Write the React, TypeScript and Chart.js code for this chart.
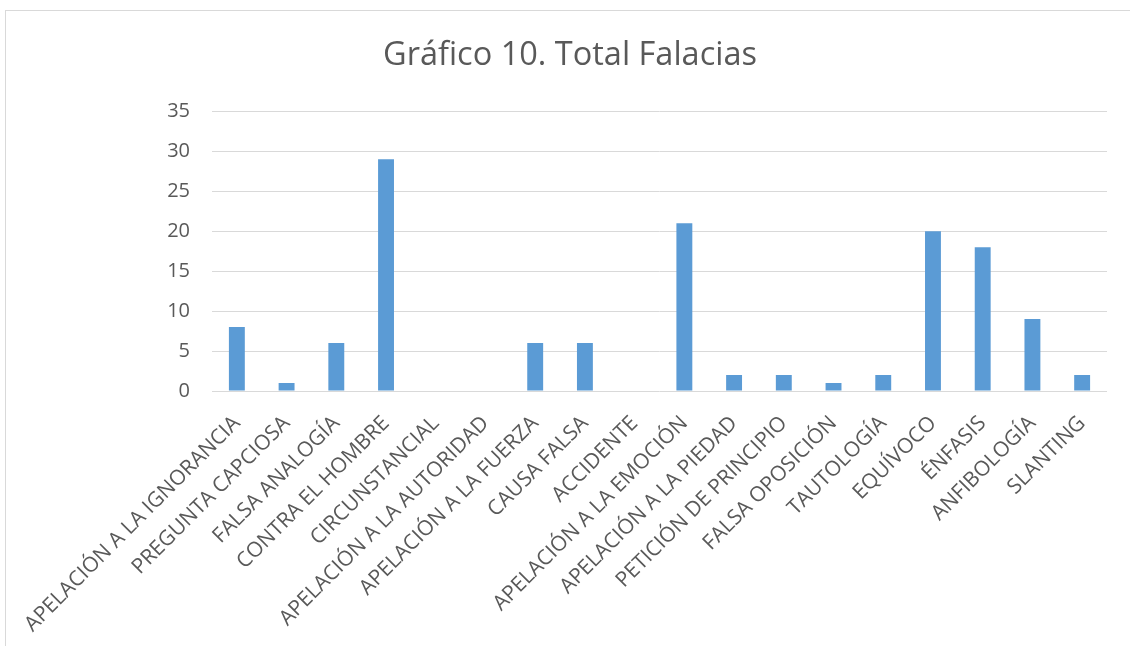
import React, { useEffect, useRef } from "react";
import { Chart, registerables } from "chart.js";

Chart.register(...registerables);

const categories: string[] = [
  "APELACIÓN A LA IGNORANCIA",
  "PREGUNTA CAPCIOSA",
  "FALSA ANALOGÍA",
  "CONTRA EL HOMBRE",
  "CIRCUNSTANCIAL",
  "APELACIÓN A LA AUTORIDAD",
  "APELACIÓN A LA FUERZA",
  "CAUSA FALSA",
  "ACCIDENTE",
  "APELACIÓN A LA EMOCIÓN",
  "APELACIÓN A LA PIEDAD",
  "PETICIÓN DE PRINCIPIO",
  "FALSA OPOSICIÓN",
  "TAUTOLOGÍA",
  "EQUÍVOCO",
  "ÉNFASIS",
  "ANFIBOLOGÍA",
  "SLANTING",
];

const totals: number[] = [8, 1, 6, 29, 0, 0, 6, 6, 0, 21, 2, 2, 1, 2, 20, 18, 9, 2];

const yTicks: number[] = [0, 5, 10, 15, 20, 25, 30, 35];

const titleText = "Gráfico 10. Total Falacias";

const FONT = "'Open Sans', 'Noto Sans', sans-serif";
const TEXT = "#595959";
const GRID = "#d9d9d9";

const framePlugin = {
  id: "frame",
  beforeDraw(chart: any) {
    const ctx = chart.ctx;
    ctx.save();
    ctx.fillStyle = "#ffffff";
    ctx.fillRect(0, 0, chart.width, chart.height);
    ctx.strokeStyle = GRID;
    ctx.lineWidth = 1;
    ctx.strokeRect(5.5, 10.5, chart.width + 10, chart.height + 10);
    ctx.restore();
  },
  afterLayout(chart: any) {
    const t = chart.titleBlock;
    if (t) {
      t.left = 33;
      t.right = chart.chartArea.right;
      t.width = t.right - t.left;
    }
  },
};

export default function App() {
  const ref = useRef<HTMLCanvasElement | null>(null);

  useEffect(() => {
    if (!ref.current) return;
    const chart = new Chart(ref.current, {
      type: "bar",
      data: {
        labels: categories,
        datasets: [
          {
            label: "Total",
            data: totals,
            backgroundColor: "#5b9bd5",
            borderWidth: 0,
            barPercentage: 0.32,
            categoryPercentage: 1,
          },
        ],
      },
      plugins: [framePlugin],
      options: {
        animation: false,
        responsive: false,
        maintainAspectRatio: false,
        layout: { padding: { left: 0, right: 23, top: 10, bottom: 0 } },
        plugins: {
          legend: { display: false },
          tooltip: { enabled: false },
          title: {
            display: true,
            text: titleText,
            color: TEXT,
            font: { family: FONT, size: 32.5, weight: "normal" as any },
            padding: { top: 26, bottom: 36.4 },
          },
        },
        scales: {
          x: {
            grid: { display: false, drawTicks: false },
            border: { display: false },
            ticks: {
              autoSkip: false,
              minRotation: 45,
              maxRotation: 45,
              padding: 20,
              color: TEXT,
              font: { family: FONT, size: 21 },
            },
            afterFit(scale: any) {
              scale.height = 255;
            },
          },
          y: {
            min: 0,
            max: 35,
            afterBuildTicks(scale: any) {
              scale.ticks = yTicks.map((v) => ({ value: v }));
            },
            grid: { color: GRID, lineWidth: 1, drawTicks: false },
            border: { display: false },
            ticks: {
              padding: 22,
              color: TEXT,
              font: { family: FONT, size: 20 },
            },
            afterFit(scale: any) {
              scale.width = 212;
            },
          },
        },
      },
    });
    return () => chart.destroy();
  }, []);

  return (
    <div style={{ position: "fixed", left: 0, top: 0, width: 1130, height: 646, background: "#fff" }}>
      <canvas ref={ref} width={1130} height={646} style={{ display: "block" }} />
    </div>
  );
}
